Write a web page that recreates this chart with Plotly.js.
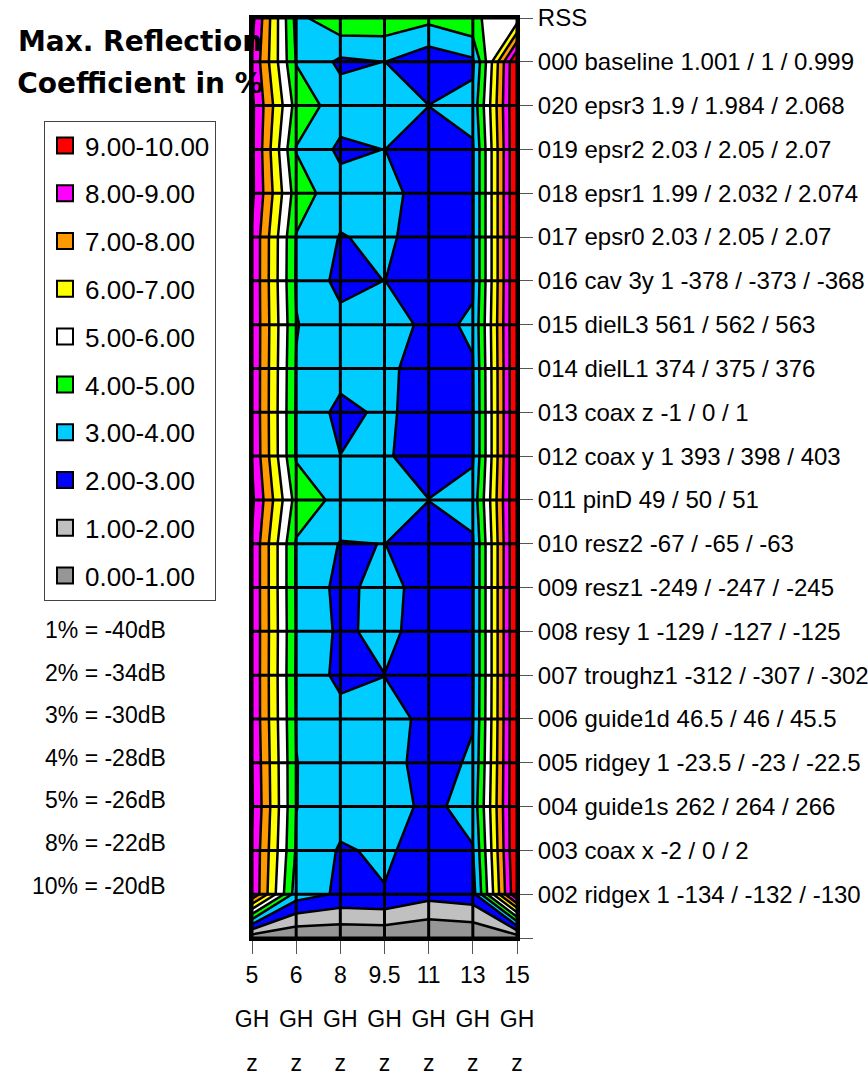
<!DOCTYPE html>
<html>
<head>
<meta charset="utf-8">
<script src="https://cdn.plot.ly/plotly-3.0.1.min.js"></script>
<style>
html,body{margin:0;padding:0;background:#ffffff;}
#chart{width:868px;height:1078px;}
</style>
</head>
<body>
<div id="chart"></div>
<script>
// ---------- data ----------
const freqValues = ['5', '6', '8', '9.5', '11', '13', '15'];
const freqUnitTop = 'GH';
const freqUnitBottom = 'z';

const rowLabels = [
  'RSS',
  '000 baseline 1.001 / 1 / 0.999',
  '020 epsr3 1.9 / 1.984 / 2.068',
  '019 epsr2 2.03 / 2.05 / 2.07',
  '018 epsr1 1.99 / 2.032 / 2.074',
  '017 epsr0 2.03 / 2.05 / 2.07',
  '016 cav 3y 1 -378 / -373 / -368',
  '015 dielL3 561 / 562 / 563',
  '014 dielL1 374 / 375 / 376',
  '013 coax z -1 / 0 / 1',
  '012 coax y 1 393 / 398 / 403',
  '011 pinD 49 / 50 / 51',
  '010 resz2 -67 / -65 / -63',
  '009 resz1 -249 / -247 / -245',
  '008 resy 1 -129 / -127 / -125',
  '007 troughz1 -312 / -307 / -302',
  '006 guide1d 46.5 / 46 / 45.5',
  '005 ridgey 1 -23.5 / -23 / -22.5',
  '004 guide1s 262 / 264 / 266',
  '003 coax x -2 / 0 / 2',
  '002 ridgex 1 -134 / -132 / -130',
  ''
];

// max reflection coefficient in % (rows top->bottom, columns 5..15 GHz)
const reflection = [
  [9.3, 3.7, 4.8, 4.7, 4.3, 4.9, 5.4],
  [8.9, 3.95, 2.8, 3.01, 2.3, 2.8, 10.2],
  [9.2, 4.6, 3.5, 3.5, 3.01, 3.3, 10.2],
  [9.2, 3.95, 2.8, 3.01, 2.4, 2.9, 10.2],
  [9.2, 4.5, 3.4, 3.3, 2.6, 2.9, 10.2],
  [8.9, 3.95, 2.95, 3.2, 2.5, 2.9, 10.2],
  [8.9, 3.9, 2.7, 3.01, 2.5, 2.9, 10.2],
  [8.9, 4.05, 3.3, 3.4, 2.8, 3.1, 10.2],
  [8.9, 3.95, 3.4, 3.2, 2.6, 2.95, 10.2],
  [8.9, 3.9, 2.7, 3.2, 2.5, 2.9, 10.2],
  [8.95, 3.9, 3.01, 3.1, 2.6, 2.9, 10.2],
  [9.2, 4.6, 3.7, 3.5, 3.01, 3.3, 10.2],
  [8.9, 3.9, 2.95, 3.01, 2.6, 2.9, 10.2],
  [8.9, 3.9, 2.7, 3.4, 2.5, 2.9, 10.2],
  [8.9, 3.95, 2.8, 3.3, 2.5, 2.9, 10.2],
  [8.9, 3.9, 2.7, 2.99, 2.5, 2.9, 10.2],
  [8.9, 3.95, 3.4, 3.3, 2.8, 2.95, 10.2],
  [9.0, 4.02, 3.5, 3.3, 2.7, 3.1, 10.2],
  [9.1, 4.02, 3.4, 3.4, 2.8, 3.3, 10.2],
  [8.9, 3.9, 2.9, 3.15, 2.6, 2.95, 10.2],
  [8.9, 3.5, 2.84, 2.95, 2.35, 2.6, 10.0],
  [0.3, 0.1, 0.15, 0.2, 0.0, 0.1, 0.3]
];

const bandLabels = ['9.00-10.00', '8.00-9.00', '7.00-8.00', '6.00-7.00', '5.00-6.00',
                    '4.00-5.00', '3.00-4.00', '2.00-3.00', '1.00-2.00', '0.00-1.00'];
const bandColors = ['#FF0000', '#FF00FF', '#FF9900', '#FFFF00', '#FFFFFF',
                    '#00FF00', '#00CCFF', '#0000FF', '#C0C0C0', '#969696'];

const dbNotes = ['1% = -40dB', '2% = -34dB', '3% = -30dB', '4% = -28dB',
                 '5% = -26dB', '8% = -22dB', '10% = -20dB'];

const titleLines = ['Max. Reflection', 'Coefficient in %'];

// ---------- layout geometry ----------
const W = 868, H = 1078;
const M = {l: 252, r: 351, t: 18, b: 140};
const PW = W - M.l - M.r, PH = H - M.t - M.b;
const pxX = px => (px - M.l) / PW;
const pxY = py => (H - M.b - py) / PH;

const xIdx = freqValues.map((_, i) => i);
const yIdx = rowLabels.map((_, i) => i);

const FONT = 'Liberation Sans, Arial, sans-serif';

// colorscale: one colour per band, bottom band first
const ascColors = bandColors.slice().reverse();
const colorscale = ascColors.map((c, i) => [i / (ascColors.length - 1), c]);

const traces = [];
traces.push({
  type: 'contour',
  x: xIdx,
  y: yIdx,
  z: reflection,
  autocontour: false,
  contours: {start: 1, end: 9, size: 1, coloring: 'fill', showlines: true},
  line: {color: '#000000', width: 2.5, smoothing: 0},
  colorscale: colorscale,
  showscale: false,
  showlegend: false,
  hoverinfo: 'skip'
});

bandLabels.forEach((lab, i) => {
  traces.push({
    type: 'scatter',
    x: [null], y: [null],
    mode: 'markers',
    name: lab,
    legendgroup: lab,
    marker: {symbol: 'square', size: 19, color: bandColors[i], line: {color: '#000000', width: 2}},
    hoverinfo: 'skip'
  });
});

// grid lines (above the contour, Excel style)
const shapes = [];
xIdx.forEach(i => shapes.push({type: 'line', xref: 'x', yref: 'paper', x0: i, x1: i, y0: 0, y1: 1,
  line: {color: '#000000', width: 3}, layer: 'above'}));
yIdx.forEach(j => shapes.push({type: 'line', xref: 'paper', yref: 'y', x0: 0, x1: 1, y0: j, y1: j,
  line: {color: '#000000', width: 3}, layer: 'above'}));

const sp = (t, s) => `<span style="font-size:${s}px">${t}</span>`;
const xTickText = freqValues.map(f => [f, freqUnitTop, freqUnitBottom].map(t => sp(t, 23)).join('<br>'));

const annotations = dbNotes.map((t, i) => ({
  text: t, xref: 'paper', yref: 'paper',
  x: pxX(168), y: pxY(630 + i * 42.6),
  xanchor: 'right', yanchor: 'middle', showarrow: false,
  font: {family: FONT, size: 23, color: '#000000'}
}));

const layout = {
  width: W, height: H,
  margin: M,
  paper_bgcolor: '#ffffff',
  plot_bgcolor: '#ffffff',
  title: {
    text: titleLines.map(t => sp(t, 28)).join('<br>'),
    font: {family: 'DejaVu Sans, Liberation Sans, sans-serif', size: 32.5, color: '#000000', weight: 'bold'},
    xref: 'container', yref: 'container',
    x: 140 / W, xanchor: 'center',
    y: 1 - 51 / H, yanchor: 'middle'
  },
  xaxis: {
    range: [0, 6],
    tickmode: 'array', tickvals: xIdx, ticktext: xTickText,
    ticks: 'outside', ticklen: 13, tickcolor: '#555555', tickwidth: 1,
    tickfont: {family: FONT, size: 34, color: '#000000'},
    ticklabelstandoff: -12,
    tickangle: 0,
    showgrid: false, zeroline: false,
    showline: true, linecolor: '#000000', linewidth: 3, mirror: true,
    fixedrange: true
  },
  yaxis: {
    range: [yIdx.length - 1, 0],
    side: 'right',
    tickmode: 'array', tickvals: yIdx, ticktext: rowLabels,
    ticks: 'outside', ticklen: 13, tickcolor: '#555555', tickwidth: 1,
    tickfont: {family: FONT, size: 24, color: '#000000'},
    showgrid: false, zeroline: false,
    showline: true, linecolor: '#000000', linewidth: 3, mirror: true,
    fixedrange: true
  },
  legend: {
    x: pxX(44), y: pxY(121), xref: 'paper', yref: 'paper',
    xanchor: 'left', yanchor: 'top',
    bgcolor: '#ffffff', bordercolor: '#444444', borderwidth: 1,
    font: {family: FONT, size: 26, color: '#000000'},
    tracegroupgap: 11,
    traceorder: 'grouped'
  },
  shapes: shapes,
  annotations: annotations,
  showlegend: true
};

Plotly.newPlot('chart', traces, layout, {displayModeBar: false, staticPlot: true});
</script>
</body>
</html>
